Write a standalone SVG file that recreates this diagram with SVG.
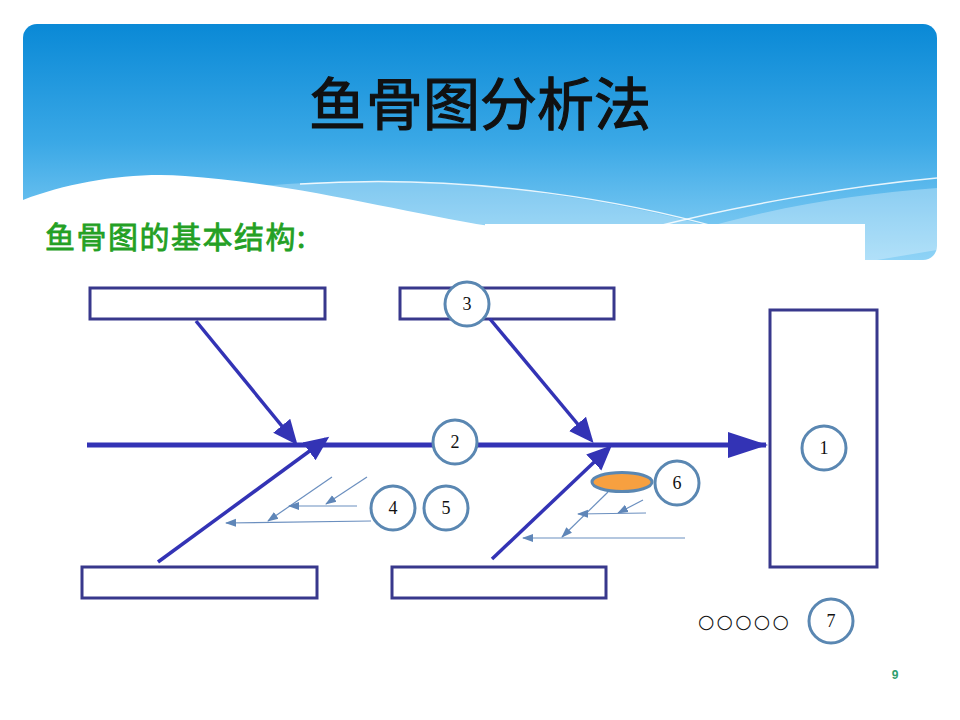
<svg xmlns="http://www.w3.org/2000/svg" width="960" height="720" viewBox="0 0 960 720">
<defs>
<linearGradient id="sky" x1="0" y1="0" x2="0" y2="1">
<stop offset="0" stop-color="#0a89d6"/>
<stop offset="0.5" stop-color="#3aa8e6"/>
<stop offset="1" stop-color="#8fd3f6"/>
</linearGradient>
<marker id="bigHead" markerUnits="userSpaceOnUse" markerWidth="42" markerHeight="28" refX="38" refY="14" orient="auto">
<path d="M0,1 L40,14 L0,27 Z" fill="#3333b5"/>
</marker>
<marker id="boneHead" markerUnits="userSpaceOnUse" markerWidth="26" markerHeight="24" refX="21" refY="12" orient="auto">
<path d="M0,1 L25,12 L0,23 Z" fill="#3333b5"/>
</marker>
<marker id="smallHead" markerUnits="userSpaceOnUse" markerWidth="12" markerHeight="10" refX="10" refY="5" orient="auto">
<path d="M0,1 L11,5 L0,9 Z" fill="#5f86b8"/>
</marker>
<style>
.box{fill:#fff;stroke:#38388c;stroke-width:3}
.bone{stroke:#3333b5;stroke-width:3.5;fill:none;marker-end:url(#boneHead)}
.spine{stroke:#3333b5;stroke-width:5;fill:none;marker-end:url(#bigHead)}
.sub{stroke:#6b8fbf;stroke-width:1.2;fill:none;marker-end:url(#smallHead)}
.ring{fill:#fff;stroke:#5a87b2;stroke-width:3}
.num{font-family:"Liberation Serif","DejaVu Serif",serif;font-size:18px;fill:#111;text-anchor:middle}
</style>
</defs>
<rect width="960" height="720" fill="#fff"/>
<g id="header">
<rect x="23" y="24" width="914" height="236" rx="14" fill="url(#sky)"/>
<path d="M260 186 C450 170 620 200 730 232 L485 232 Z" fill="#fff" opacity="0.25"/>
<path d="M690 232 C780 205 860 194 937 188 L937 250 L865 262 L865 232 Z" fill="#fff" opacity="0.3"/>
<path d="M300 184 C480 172 640 205 720 228" stroke="#fff" stroke-width="1.5" fill="none" opacity="0.85"/>
<path d="M650 228 C740 205 850 186 937 178" stroke="#fff" stroke-width="1.5" fill="none" opacity="0.85"/>
<path d="M23 200 C70 182 130 172 185 176 C300 184 400 212 490 226 L490 262 L23 262 Z" fill="#fff"/>
<rect x="485" y="224" width="380" height="40" fill="#fff"/>
<rect x="0" y="262" width="960" height="10" fill="#fff"/>
<text x="480" y="125" font-family="Noto Sans CJK SC, sans-serif" font-size="57" fill="#111" stroke="#111" stroke-width="1.2" text-anchor="middle">鱼骨图分析法</text>
</g>
<text id="subtitle" x="45" y="248" font-family="Noto Sans CJK SC, sans-serif" font-size="30" fill="#24a024" stroke="#24a024" stroke-width="0.8" letter-spacing="1.5">鱼骨图的基本结构:</text>
<g id="boxes">
<rect id="box-tl" class="box" x="90" y="288" width="235" height="31"/>
<rect id="box-tm" class="box" x="400" y="288" width="214" height="31"/>
<rect id="box-bl" class="box" x="82" y="567" width="235" height="31"/>
<rect id="box-bm" class="box" x="392" y="567" width="214" height="31"/>
<rect id="box-head" class="box" x="770" y="310" width="107" height="257"/>
</g>
<g id="connectors">
<line class="spine" x1="87" y1="445" x2="766" y2="445"/>
<line class="bone" x1="196" y1="321" x2="295" y2="442"/>
<line class="bone" x1="490" y1="319" x2="591" y2="440"/>
<line class="bone" x1="158" y1="562" x2="326" y2="439"/>
<line class="bone" x1="492" y1="559" x2="609" y2="448"/>
<line class="sub" x1="332" y1="477" x2="268" y2="521"/>
<line class="sub" x1="367" y1="477" x2="326" y2="504"/>
<line class="sub" x1="357" y1="506" x2="289" y2="506"/>
<line class="sub" x1="371" y1="521" x2="226" y2="523"/>
<line class="sub" x1="608" y1="492" x2="562" y2="537"/>
<line class="sub" x1="643" y1="500" x2="618" y2="513"/>
<line class="sub" x1="646" y1="513" x2="578" y2="514"/>
<line class="sub" x1="685" y1="538" x2="523" y2="538"/>
</g>
<g id="ellipse6"><ellipse cx="622" cy="482" rx="30" ry="9.5" fill="#f7a040" stroke="#5a87b2" stroke-width="3"/></g>
<g id="n1"><circle class="ring" cx="824" cy="448" r="22"/><text class="num" x="824" y="454">1</text></g>
<g id="n2"><circle class="ring" cx="455" cy="442" r="22"/><text class="num" x="455" y="448">2</text></g>
<g id="n3"><circle class="ring" cx="467" cy="304" r="22"/><text class="num" x="467" y="310">3</text></g>
<g id="n4"><circle class="ring" cx="393" cy="508" r="22"/><text class="num" x="393" y="514">4</text></g>
<g id="n5"><circle class="ring" cx="446" cy="508" r="22"/><text class="num" x="446" y="514">5</text></g>
<g id="n6"><circle class="ring" cx="677" cy="483" r="22"/><text class="num" x="677" y="489">6</text></g>
<g id="n7"><circle class="ring" cx="831" cy="621" r="22"/><text class="num" x="831" y="627">7</text></g>
<text id="blanks" x="698" y="628" font-family="DejaVu Sans, sans-serif" font-size="19" fill="#111" textLength="91" lengthAdjust="spacing">○○○○○</text>
<text id="page" x="895" y="679" font-family="Liberation Sans, sans-serif" font-size="12" font-weight="bold" fill="#2e9e6e" text-anchor="middle">9</text>
</svg>
